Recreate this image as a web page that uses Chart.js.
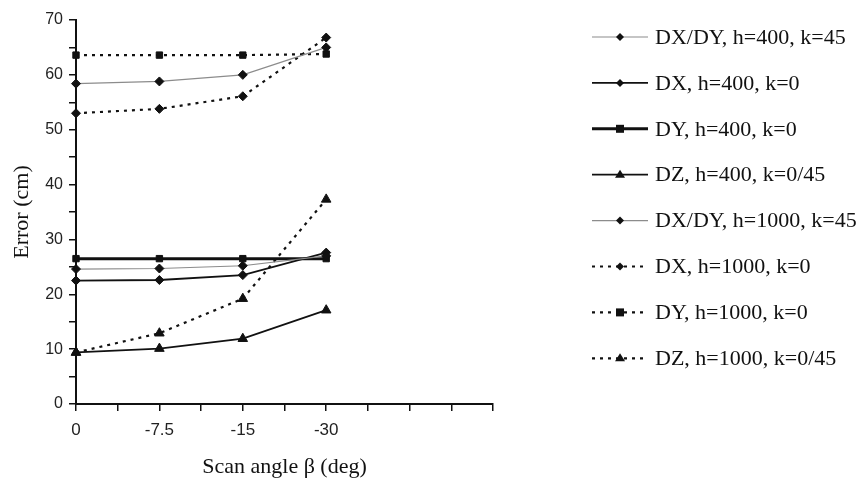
<!DOCTYPE html>
<html>
<head>
<meta charset="utf-8">
<script src="https://cdn.jsdelivr.net/npm/chart.js@4/dist/chart.umd.min.js"></script>
<style>
  html, body { margin: 0; padding: 0; background: #fff; }
  #wrap { width: 860px; height: 478px; }
</style>
</head>
<body>
<div id="wrap"><canvas id="errChart" width="860" height="478"></canvas></div>
<script>
// scan angle categories (x positions 0..3 on a 0..5 axis)
const angleLabels = ['0', '-7.5', '-15', '-30'];

// series values (cm)
const dxdy400 = [24.6, 24.7, 25.2, 27.0];
const dx400   = [22.5, 22.6, 23.5, 27.6];
const dy400   = [26.5, 26.5, 26.5, 26.5];
const dz400   = [9.4, 10.1, 11.9, 17.1];
const dxdy1000 = [58.4, 58.8, 60.0, 65.0];
const dx1000  = [53.0, 53.8, 56.1, 66.8];
const dy1000  = [63.6, 63.6, 63.6, 63.8];
const dz1000  = [9.4, 12.9, 19.2, 37.3];

const seriesNames = [
  'DX/DY, h=400, k=45',
  'DX, h=400, k=0',
  'DY, h=400, k=0',
  'DZ, h=400, k=0/45',
  'DX/DY, h=1000, k=45',
  'DX, h=1000, k=0',
  'DY, h=1000, k=0',
  'DZ, h=1000, k=0/45'
];

function pts(arr) {
  return arr.map((v, i) => ({ x: i, y: v }));
}

function mkSet(label, values, color, width, dash, marker, radius) {
  return {
    label: label,
    data: pts(values),
    borderColor: color,
    borderWidth: width,
    borderDash: dash,
    pointStyle: marker,
    pointRadius: radius,
    pointBackgroundColor: '#111',
    pointBorderColor: '#111',
    pointBorderWidth: 1,
    fill: false,
    tension: 0,
    clip: false
  };
}

const dotted = [3, 5];

const datasets = [
  mkSet(seriesNames[0], dxdy400, '#8c8c8c', 1.2, [], 'rectRot', 4.5),
  mkSet(seriesNames[1], dx400, '#111', 1.8, [], 'rectRot', 4.5),
  mkSet(seriesNames[2], dy400, '#111', 3, [], 'rect', 4.5),
  mkSet(seriesNames[3], dz400, '#111', 1.8, [], 'triangle', 5.5),
  mkSet(seriesNames[4], dxdy1000, '#8c8c8c', 1.2, [], 'rectRot', 4.5),
  mkSet(seriesNames[5], dx1000, '#111', 2.2, dotted, 'rectRot', 4.5),
  mkSet(seriesNames[6], dy1000, '#111', 2.2, dotted, 'rect', 4.5),
  mkSet(seriesNames[7], dz1000, '#111', 2.2, dotted, 'triangle', 5.5)
];

// legend drawn by hand: line sample + marker + text
const sideLegend = {
  id: 'sideLegend',
  afterDraw(chart) {
    const ctx = chart.ctx;
    const x0 = 592, x1 = 648, top = 37, step = 45.9;
    chart.data.datasets.forEach((ds, i) => {
      const y = top + i * step;
      ctx.save();
      ctx.strokeStyle = ds.borderColor;
      ctx.lineWidth = ds.borderWidth;
      ctx.setLineDash(ds.borderDash || []);
      ctx.beginPath();
      ctx.moveTo(x0, y);
      ctx.lineTo(x1, y);
      ctx.stroke();
      ctx.setLineDash([]);
      const mx = (x0 + x1) / 2;
      const r = ds.pointRadius - 0.5;
      ctx.fillStyle = '#111';
      ctx.beginPath();
      if (ds.pointStyle === 'rect') {
        ctx.rect(mx - r, y - r, 2 * r, 2 * r);
      } else if (ds.pointStyle === 'triangle') {
        ctx.moveTo(mx, y - r);
        ctx.lineTo(mx + r, y + r * 0.6);
        ctx.lineTo(mx - r, y + r * 0.6);
        ctx.closePath();
      } else {
        ctx.moveTo(mx, y - r);
        ctx.lineTo(mx + r, y);
        ctx.lineTo(mx, y + r);
        ctx.lineTo(mx - r, y);
        ctx.closePath();
      }
      ctx.fill();
      ctx.fillStyle = '#111';
      ctx.font = '22px "Liberation Serif", "Times New Roman", serif';
      ctx.textBaseline = 'middle';
      ctx.textAlign = 'left';
      ctx.fillText(ds.label, 655, y + 1);
      ctx.restore();
    });
  }
};

const ctx = document.getElementById('errChart').getContext('2d');
const errChart = new Chart(ctx, {
  type: 'line',
  data: { datasets: datasets },
  options: {
    responsive: false,
    animation: false,
    layout: { padding: { top: 20, right: 367, left: 0, bottom: 0 } },
    plugins: {
      legend: { display: false },
      tooltip: { enabled: false }
    },
    scales: {
      x: {
        type: 'linear',
        min: 0,
        max: 5,
        afterFit: (scale) => { scale.height = 74; },
        ticks: {
          stepSize: 0.5,
          autoSkip: false,
          maxRotation: 0,
          padding: 9,
          color: '#222',
          font: { family: '"Liberation Sans", Arial, sans-serif', size: 17 },
          callback: (v) => (Number.isInteger(v) && v < angleLabels.length) ? angleLabels[v] : ''
        },
        grid: {
          drawOnChartArea: false,
          drawTicks: true,
          tickLength: 7,
          color: '#111',
          lineWidth: 1.5
        },
        border: { display: true, color: '#111', width: 2 },
        title: {
          display: true,
          text: 'Scan angle \u03b2 (deg)',
          color: '#111',
          padding: { top: 0, bottom: -2 },
          font: { family: '"Liberation Serif", "Times New Roman", serif', size: 22 }
        }
      },
      y: {
        min: 0,
        max: 70,
        afterFit: (scale) => { scale.width = 76; },
        ticks: {
          stepSize: 5,
          autoSkip: false,
          padding: 6,
          color: '#222',
          font: { family: '"Liberation Sans", Arial, sans-serif', size: 16 },
          callback: (v) => (v % 10 === 0) ? v : ''
        },
        grid: {
          drawOnChartArea: false,
          drawTicks: true,
          tickLength: 7,
          color: '#111',
          lineWidth: 1.5
        },
        border: { display: true, color: '#111', width: 2 },
        title: {
          display: true,
          text: 'Error (cm)',
          color: '#111',
          padding: { top: 9, bottom: 0 },
          font: { family: '"Liberation Serif", "Times New Roman", serif', size: 22 }
        }
      }
    }
  },
  plugins: [sideLegend]
});
</script>
</body>
</html>
